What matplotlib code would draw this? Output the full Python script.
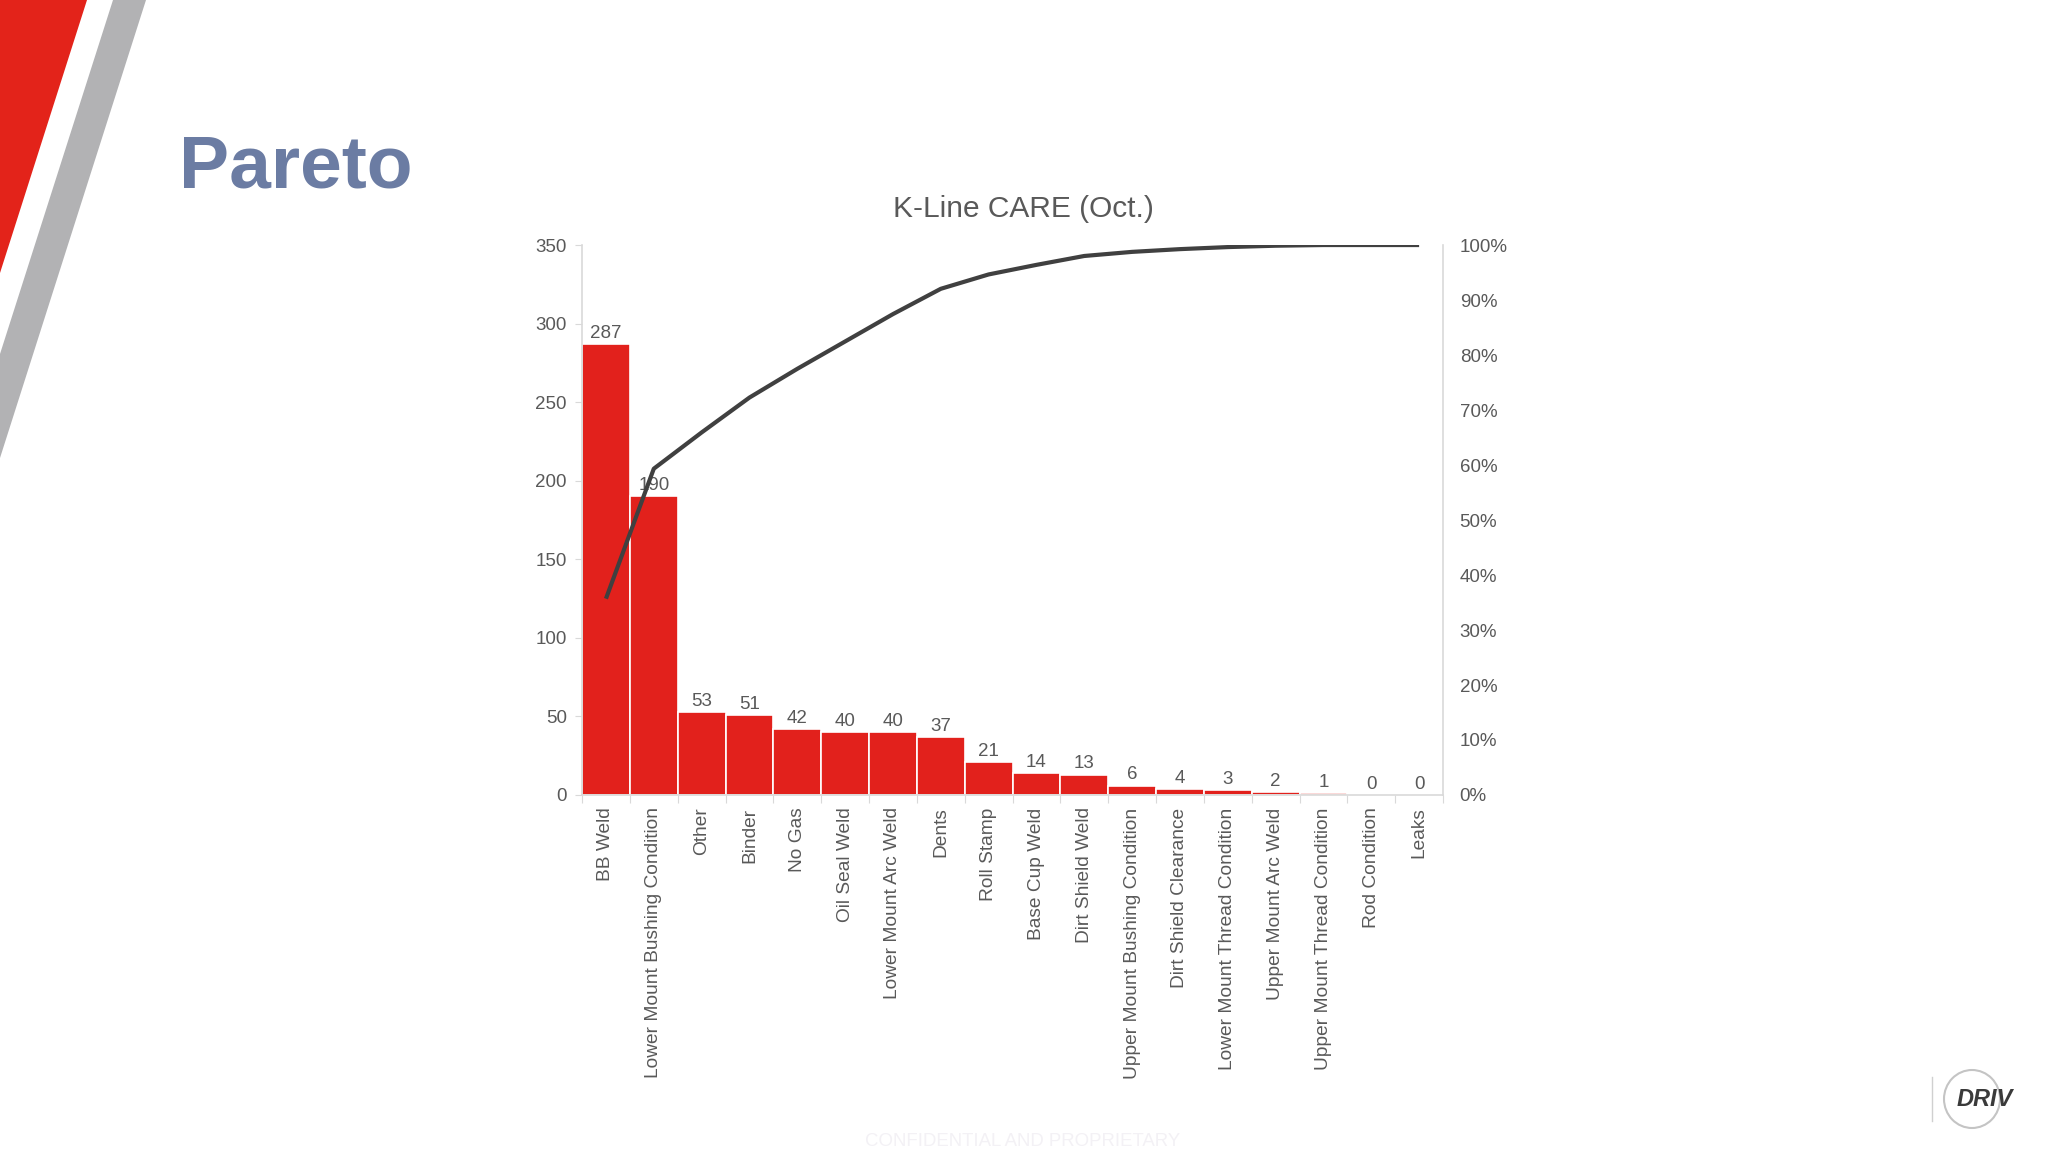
import numpy as np
import matplotlib.pyplot as plt
from matplotlib.patches import Polygon, Ellipse

# chart data
categories = ['BB Weld', 'Lower Mount Bushing Condition', 'Other', 'Binder', 'No Gas',
              'Oil Seal Weld', 'Lower Mount Arc Weld', 'Dents', 'Roll Stamp', 'Base Cup Weld',
              'Dirt Shield Weld', 'Upper Mount Bushing Condition', 'Dirt Shield Clearance',
              'Lower Mount Thread Condition', 'Upper Mount Arc Weld',
              'Upper Mount Thread Condition', 'Rod Condition', 'Leaks']
counts = [287, 190, 53, 51, 42, 40, 40, 37, 21, 14, 13, 6, 4, 3, 2, 1, 0, 0]
left_ticks = [0, 50, 100, 150, 200, 250, 300, 350]
right_ticks = [0, 10, 20, 30, 40, 50, 60, 70, 80, 90, 100]

cum_pct = np.cumsum(counts) / float(sum(counts)) * 100

arial = ['Liberation Sans', 'DejaVu Sans']
grey_txt = '#595959'
grey_ax = '#D9D9D9'
red = '#E2211C'

fig = plt.figure(figsize=(20.48, 11.52), dpi=100)
fig.patch.set_facecolor('white')

# slide decoration, drawn in pixel coordinates
bg = fig.add_axes([0, 0, 1, 1], zorder=-1)
bg.set_xlim(0, 2048)
bg.set_ylim(1152, 0)
bg.axis('off')
bg.add_patch(Polygon([(0, 0), (87, 0), (0, 273)], closed=True, color='#E3231A', lw=0))
bg.add_patch(Polygon([(113, 0), (146, 0), (0, 458), (0, 354)], closed=True,
                     color='#B2B2B4', lw=0))
bg.text(179, 187, 'Pareto', family=arial, weight='bold', fontsize=54,
        color='#6B7CA3', ha='left', va='baseline')
bg.text(1023, 1142, 'CONFIDENTIAL AND PROPRIETARY',
        family=arial, fontsize=13.4, color='#F3F1F5', ha='center', va='center')
# logo
bg.plot([1932, 1932], [1077, 1121], color='#D0D0D0', lw=1)
bg.add_patch(Ellipse((1972, 1099), 56, 58, fill=False, ec='#C4C4C4', lw=1.5))
bg.text(1985, 1099, 'DRIV', family=arial, style='italic', weight='bold', fontsize=17,
        color='#3A3A3A', ha='center', va='center')

# main chart
ax = fig.add_axes([0.2842, 0.3099, 0.4204, 0.4774])
ax.patch.set_alpha(0)
x = np.arange(len(categories))
ax.bar(x, counts, width=1.0, color=red, edgecolor='white', linewidth=1.2, zorder=2)
ax.set_xlim(-0.5, len(categories) - 0.5)
ax.set_ylim(0, 350)
ax.set_yticks(left_ticks)
for c, v in zip(x, counts):
    ax.annotate(str(v), (c, v), xytext=(0, 1.5), textcoords='offset points',
                ha='center', va='bottom', fontsize=13.5, color=grey_txt, family=arial)

ax.set_xticks(np.arange(-0.5, len(categories), 1))
ax.set_xticklabels([])
ax.set_xticks(x, minor=True)
ax.set_xticklabels(categories, minor=True, rotation=90, fontsize=13.8,
                   color=grey_txt, family=arial)
ax.tick_params(axis='x', which='major', length=6, color=grey_ax)
ax.tick_params(axis='x', which='minor', length=0, pad=9)
ax.tick_params(axis='y', length=5, color=grey_ax, labelcolor=grey_txt, labelsize=13.5, pad=6)
for lab in ax.get_yticklabels():
    lab.set_family(arial)
for s in ['top', 'right']:
    ax.spines[s].set_visible(False)
for s in ['left', 'bottom']:
    ax.spines[s].set_color(grey_ax)
    ax.spines[s].set_linewidth(1.2)

ax2 = ax.twinx()
ax2.plot(x, cum_pct, color='#404040', lw=3, solid_capstyle='butt', zorder=3)
ax2.set_ylim(0, 100)
ax2.set_yticks(right_ticks)
ax2.set_yticklabels(['%d%%' % t for t in right_ticks])
ax2.tick_params(axis='y', length=0, pad=12, labelcolor=grey_txt, labelsize=13.5)
for lab in ax2.get_yticklabels():
    lab.set_family(arial)
for s in ['top', 'left', 'bottom']:
    ax2.spines[s].set_visible(False)
ax2.spines['right'].set_color(grey_ax)
ax2.spines['right'].set_linewidth(1.2)

fig.text(1023 / 2048, 1 - 209 / 1152, 'K-Line CARE (Oct.)', ha='center', va='center',
         fontsize=21.5, color=grey_txt, family=arial)

fig.savefig('out.png', dpi=100, facecolor='white')
